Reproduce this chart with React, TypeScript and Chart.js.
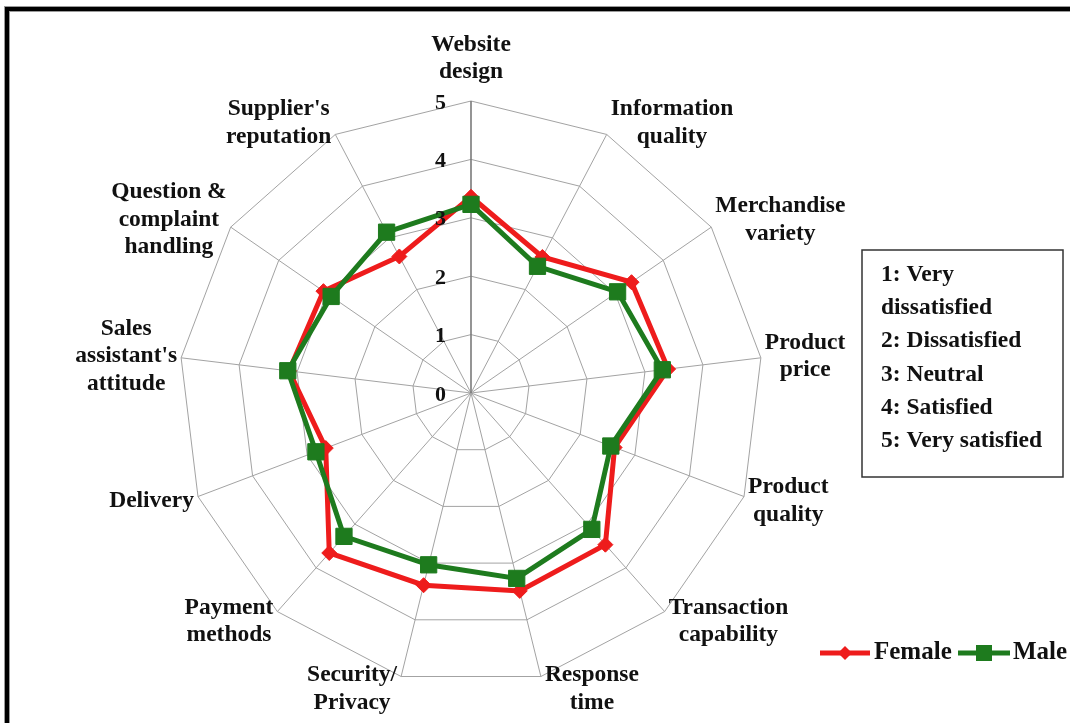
import React, { useEffect, useRef } from 'react';
import { Chart, registerables } from 'chart.js';

Chart.register(...registerables);

// ---------- data ----------
const categoryLines: string[][] = [
  ['Website', 'design'],
  ['Information', 'quality'],
  ['Merchandise', 'variety'],
  ['Product', 'price'],
  ['Product', 'quality'],
  ['Transaction', 'capability'],
  ['Response', 'time'],
  ['Security/', 'Privacy'],
  ['Payment', 'methods'],
  ['Delivery'],
  ['Sales', "assistant's", 'attitude'],
  ['Question &', 'complaint', 'handling'],
  ["Supplier's", 'reputation'],
];
const categories = categoryLines.map((l) => l.join(' '));

const femaleValues = [3.36, 2.63, 3.34, 3.40, 2.63, 3.47, 3.49, 3.39, 3.66, 2.66, 3.14, 3.07, 2.64];
const maleValues = [3.23, 2.45, 3.05, 3.30, 2.56, 3.12, 3.27, 3.03, 3.28, 2.84, 3.16, 2.91, 3.11];

const seriesNames = ['Female', 'Male'];
const tickValues = [0, 1, 2, 3, 4, 5];
const scaleNotes = ['1: Very', 'dissatisfied', '2: Dissatisfied', '3: Neutral', '4: Satisfied', '5: Very satisfied'];

// ---------- styles ----------
const RED = '#ee1c1c';
const GREEN = '#1e7b1e';
const GRID = '#a3a3a3';
const FONT = '"Liberation Serif", "Times New Roman", serif';
const TEXT = '#111111';

const W = 1070;
const H = 723;

const decorPlugin = {
  id: 'decor',
  beforeDraw(chart: any) {
    const { ctx, width, height } = chart;
    ctx.save();
    ctx.fillStyle = '#ffffff';
    ctx.fillRect(0, 0, width, height);
    ctx.fillStyle = '#9a9a9a';
    ctx.fillRect(4, 6, width, 6);
    ctx.fillRect(4, 6, 6, height);
    ctx.fillStyle = '#000000';
    ctx.fillRect(5, 7, width, 4);
    ctx.fillRect(5, 7, 4, height);
    ctx.restore();
  },
  afterDraw(chart: any) {
    const { ctx } = chart;
    const scale = chart.scales.r;
    const n = categoryLines.length;
    const R = scale.drawingArea;
    ctx.save();
    ctx.fillStyle = TEXT;

    // point labels
    ctx.font = `bold 23.5px ${FONT}`;
    ctx.textBaseline = 'middle';
    const lh = 27.5;
    for (let i = 0; i < n; i++) {
      const lines = categoryLines[i];
      const p = scale.getPointPosition(i, R);
      const ang = (i * 2 * Math.PI) / n;
      const s = Math.sin(ang);
      const c = Math.cos(ang);
      const bw = Math.max(...lines.map((t) => ctx.measureText(t).width));
      const bh = lines.length * lh;
      let cx: number;
      let cy: number;
      if (Math.abs(s) < 1e-6) {
        cx = p.x;
        cy = c > 0 ? p.y - 15 - bh / 2 : p.y + 15 + bh / 2;
      } else {
        cx = s > 0 ? p.x + 4 + bw / 2 : p.x - 4 - bw / 2;
        cy = p.y - c * 13;
      }
      ctx.textAlign = 'center';
      lines.forEach((t, k) => {
        ctx.fillText(t, cx, cy - bh / 2 + lh * (k + 0.5));
      });
    }

    // tick labels
    ctx.font = `bold 22px ${FONT}`;
    ctx.textAlign = 'right';
    tickValues.forEach((v) => {
      const p = scale.getPointPositionForValue(0, v);
      ctx.fillText(String(v), p.x - 25, p.y + 2);
    });

    // notes box
    ctx.strokeStyle = '#333333';
    ctx.lineWidth = 1.5;
    ctx.strokeRect(862, 250, 201, 227);
    ctx.font = `bold 23.5px ${FONT}`;
    ctx.textAlign = 'left';
    scaleNotes.forEach((t, k) => {
      ctx.fillText(t, 881, 275 + k * 33.2);
    });

    // series legend
    const ds = chart.data.datasets;
    const items = [
      { x0: 820, x1: 870, tx: 874, idx: 0, style: 'diamond' },
      { x0: 958, x1: 1010, tx: 1013, idx: 1, style: 'square' },
    ];
    const ly = 653;
    ctx.font = `bold 25px ${FONT}`;
    items.forEach((it) => {
      const col = ds[it.idx].borderColor;
      ctx.strokeStyle = col;
      ctx.fillStyle = col;
      ctx.lineWidth = 5;
      ctx.beginPath();
      ctx.moveTo(it.x0, ly);
      ctx.lineTo(it.x1, ly);
      ctx.stroke();
      const mx = (it.x0 + it.x1) / 2;
      ctx.beginPath();
      if (it.style === 'diamond') {
        ctx.moveTo(mx - 7, ly);
        ctx.lineTo(mx, ly - 7);
        ctx.lineTo(mx + 7, ly);
        ctx.lineTo(mx, ly + 7);
        ctx.closePath();
      } else {
        ctx.rect(mx - 8, ly - 8, 16, 16);
      }
      ctx.fill();
      ctx.fillStyle = TEXT;
      ctx.fillText(ds[it.idx].label, it.tx, ly);
    });

    ctx.restore();
  },
};

export default function App() {
  const ref = useRef<HTMLCanvasElement | null>(null);

  useEffect(() => {
    if (!ref.current) return;
    const chart = new Chart(ref.current, {
      type: 'radar',
      data: {
        labels: categories,
        datasets: [
          {
            label: seriesNames[0],
            data: femaleValues,
            borderColor: RED,
            backgroundColor: RED,
            borderWidth: 5,
            fill: false,
            tension: 0,
            pointStyle: 'rectRot',
            pointRadius: 7.5,
            pointHoverRadius: 7.5,
            pointBackgroundColor: RED,
            pointBorderColor: RED,
            pointBorderWidth: 1,
            order: 1,
          },
          {
            label: seriesNames[1],
            data: maleValues,
            borderColor: GREEN,
            backgroundColor: GREEN,
            borderWidth: 5,
            fill: false,
            tension: 0,
            pointStyle: 'rect',
            pointRadius: 11.5,
            pointHoverRadius: 11.5,
            pointBackgroundColor: GREEN,
            pointBorderColor: GREEN,
            pointBorderWidth: 1,
            order: 0,
          },
        ],
      },
      options: {
        responsive: false,
        animation: false,
        events: [],
        layout: { padding: { left: 179, top: 101, right: W - 179 - 584, bottom: H - 101 - 584 } },
        plugins: {
          legend: { display: false },
          tooltip: { enabled: false },
        },
        scales: {
          r: {
            min: 0,
            max: 5,
            beginAtZero: true,
            ticks: { display: false, stepSize: 1 },
            pointLabels: { display: false },
            grid: { color: GRID, lineWidth: 1, circular: false },
            angleLines: {
              display: true,
              color: (c: any) => (c.index === 0 ? '#7a7a7a' : GRID),
              lineWidth: (c: any) => (c.index === 0 ? 1.6 : 1),
            },
          },
        },
      },
      plugins: [decorPlugin],
    });
    return () => chart.destroy();
  }, []);

  return (
    <div style={{ position: 'absolute', left: 0, top: 0, width: W, height: H, overflow: 'hidden' }}>
      <canvas ref={ref} width={W} height={H} style={{ display: 'block', width: W, height: H }} />
    </div>
  );
}
